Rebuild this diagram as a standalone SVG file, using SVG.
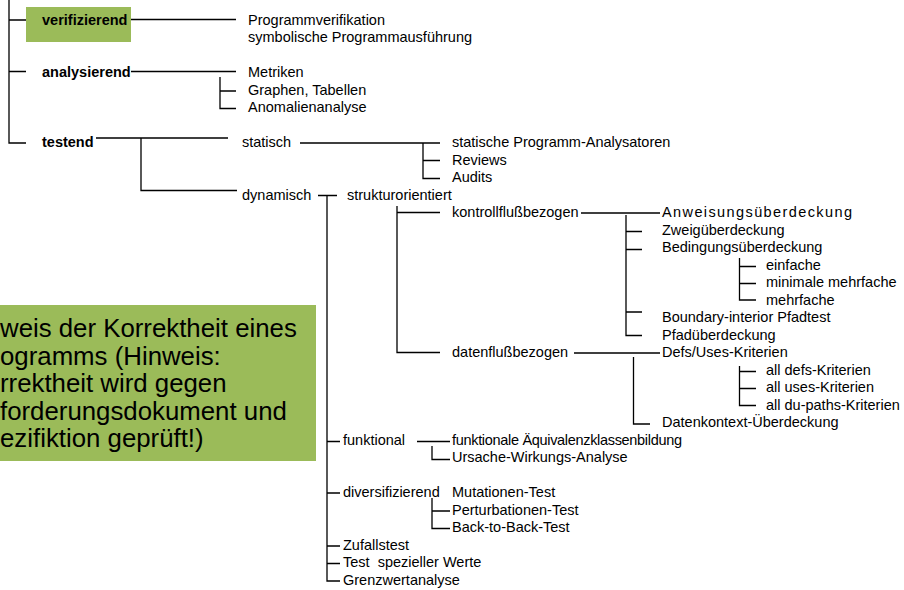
<svg xmlns="http://www.w3.org/2000/svg" width="904" height="590" viewBox="0 0 904 590">
<style>
.t{font-family:"Liberation Sans",Arial,sans-serif;font-size:14.5px;fill:#000;white-space:pre}
.b{font-weight:bold}
.big{font-family:"Liberation Sans",Arial,sans-serif;font-size:25.8px;fill:#000}
.c{stroke:#000;stroke-width:1.3;fill:none}
.g{fill:#9BBB59}
</style>
<rect width="904" height="590" fill="#fff"/>
<g id="connectors" class="c">
<path d="M9,0V143H26M9,20H26M9,71.5H26"/>
<path d="M131,19.5H236"/>
<path d="M131,71.5H236M220,77V108.5H236M220,91H236"/>
<path d="M96,138H228M141,138V190.5H237"/>
<path d="M300,143H440M423,143V178.5H440M423,160.5H440"/>
<path d="M318,195.5H337M327,195.5V581H340"/>
<path d="M397,206V352.5H440M397,212.5H440"/>
<path d="M581,213H660M626,215V335.5H642M626,231.5H642M626,249.5H642M626,312H642"/>
<path d="M739.5,258V300H756M739.5,266.5H756M739.5,283.5H756"/>
<path d="M574,353H660M633.5,357V424H650"/>
<path d="M739.5,366V405.5H756M739.5,371.5H756M739.5,388.5H756"/>
<path d="M327,441.5H340M417,441.5H450M432,446V459.5H450"/>
<path d="M327,493H340M432,498V528.5H450M432,511H450"/>
<path d="M327,546H340M327,563.5H340"/>
</g>
<g id="n-verifizierend"><rect class="g" x="26" y="7" width="105" height="35"/><text class="t b" x="42" y="24.5">verifizierend</text></g>
<g id="n-programmverifikation"><text class="t" x="248" y="24.5">Programmverifikation</text></g>
<g id="n-symbolisch"><text class="t" x="248" y="42">symbolische Programmausführung</text></g>
<g id="n-analysierend"><text class="t b" x="42" y="77">analysierend</text></g>
<g id="n-metriken"><text class="t" x="248" y="77">Metriken</text></g>
<g id="n-graphen"><text class="t" x="248" y="94.5">Graphen, Tabellen</text></g>
<g id="n-anomalien"><text class="t" x="248" y="112">Anomalienanalyse</text></g>
<g id="n-testend"><text class="t b" x="42" y="147">testend</text></g>
<g id="n-statisch"><text class="t" x="242" y="147">statisch</text></g>
<g id="n-analysatoren"><text class="t" x="452" y="147">statische Programm-Analysatoren</text></g>
<g id="n-reviews"><text class="t" x="452" y="164.5">Reviews</text></g>
<g id="n-audits"><text class="t" x="452" y="182">Audits</text></g>
<g id="n-dynamisch"><text class="t" x="242" y="199.5">dynamisch</text></g>
<g id="n-struktur"><text class="t" x="347" y="199.5">strukturorientiert</text></g>
<g id="n-kontroll"><text class="t" x="452" y="217">kontrollflußbezogen</text></g>
<g id="n-anweisung"><text class="t" x="662" y="217" textLength="190" lengthAdjust="spacing">Anweisungsüberdeckung</text></g>
<g id="n-zweig"><text class="t" x="662" y="234.5">Zweigüberdeckung</text></g>
<g id="n-bedingung"><text class="t" x="662" y="252">Bedingungsüberdeckung</text></g>
<g id="n-einfache"><text class="t" x="766" y="269.5">einfache</text></g>
<g id="n-minimale"><text class="t" x="766" y="287">minimale mehrfache</text></g>
<g id="n-mehrfache"><text class="t" x="766" y="304.5">mehrfache</text></g>
<g id="n-boundary"><text class="t" x="662" y="322">Boundary-interior Pfadtest</text></g>
<g id="n-pfad"><text class="t" x="662" y="339.5">Pfadüberdeckung</text></g>
<g id="n-datenfluss"><text class="t" x="452" y="357">datenflußbezogen</text></g>
<g id="n-defsuses"><text class="t" x="662" y="357">Defs/Uses-Kriterien</text></g>
<g id="n-alldefs"><text class="t" x="766" y="374.5">all defs-Kriterien</text></g>
<g id="n-alluses"><text class="t" x="766" y="392">all uses-Kriterien</text></g>
<g id="n-alldu"><text class="t" x="766" y="409.5">all du-paths-Kriterien</text></g>
<g id="n-datenkontext"><text class="t" x="662" y="427">Datenkontext-Überdeckung</text></g>
<g id="n-funktional"><text class="t" x="343" y="444.5">funktional</text></g>
<g id="n-aequivalenz"><text class="t" x="452" y="444.5" textLength="230" lengthAdjust="spacing">funktionale Äquivalenzklassenbildung</text></g>
<g id="n-ursache"><text class="t" x="452" y="462">Ursache-Wirkungs-Analyse</text></g>
<g id="n-diversifizierend"><text class="t" x="343" y="497">diversifizierend</text></g>
<g id="n-mutationen"><text class="t" x="452" y="497">Mutationen-Test</text></g>
<g id="n-perturbationen"><text class="t" x="452" y="514.5">Perturbationen-Test</text></g>
<g id="n-backtoback"><text class="t" x="452" y="532">Back-to-Back-Test</text></g>
<g id="n-zufallstest"><text class="t" x="343" y="549.5">Zufallstest</text></g>
<g id="n-spezielle"><text class="t" x="343" y="567">Test  spezieller Werte</text></g>
<g id="n-grenzwert"><text class="t" x="343" y="584.5">Grenzwertanalyse</text></g>
<g id="n-hinweis">
<rect class="g" x="0" y="305" width="316" height="156"/>
<text class="big" x="0" y="337">weis der Korrektheit eines</text>
<text class="big" x="0" y="364.5">ogramms (Hinweis:</text>
<text class="big" x="0" y="392">rrektheit wird gegen</text>
<text class="big" x="0" y="419.5">forderungsdokument und</text>
<text class="big" x="0" y="447">ezifiktion geprüft!)</text>
</g>
</svg>
